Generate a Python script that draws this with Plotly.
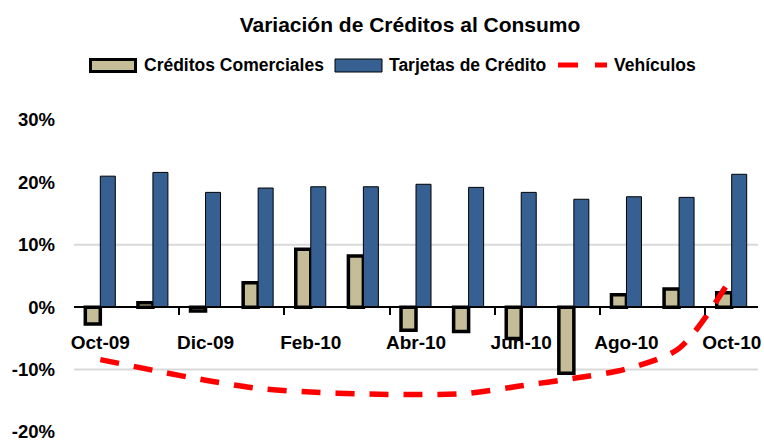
import plotly.graph_objects as go

# ---------------- data ----------------
months = ["Oct-09", "Nov-09", "Dic-09", "Ene-10", "Feb-10", "Mar-10", "Abr-10",
          "May-10", "Jun-10", "Jul-10", "Ago-10", "Sep-10", "Oct-10"]
comerciales = [-2.7, 0.7, -0.6, 3.9, 9.3, 8.2, -3.7, -3.9, -5.0, -10.6, 2.0, 2.9, 2.3]
tarjetas = [21.0, 21.6, 18.4, 19.1, 19.3, 19.3, 19.7, 19.2, 18.4, 17.3, 17.7, 17.6, 21.3]
vehiculos = [-8.4, -10.1, -11.7, -13.0, -13.6, -13.9, -14.0, -13.8, -12.6, -11.4, -9.9, -6.6, 4.8]
labeled_months = months[::2]
y_tick_vals = [-0.2, -0.1, 0.0, 0.1, 0.2, 0.3]
y_tick_text = ["-20%", "-10%", "0%", "10%", "20%", "30%"]
grid_vals = [-0.1, 0.1]
series_names = ["Créditos Comerciales", "Tarjetas de Crédito", "Vehículos"]
title_text = "Variación de Créditos al Consumo"

# ---------------- styles ----------------
FONT = "Liberation Sans, Arial, sans-serif"
TAN = "#C4BD97"
BLUE = "#376092"
RED = "#FF0000"

W_PX, H_PX = 764, 441
L, R, T, B = 74, 6, 120, 9
PW, PH = W_PX - L - R, H_PX - T - B


def px_x(x):
    return (x - L) / PW


def px_y(y):
    return (T + PH - y) / PH


y_min, y_max = -0.2, 0.3
zero_pos = (0 - y_min) / (y_max - y_min)

fig = go.Figure()
fig.add_trace(go.Bar(
    x=months, y=[v / 100 for v in comerciales], name=series_names[0],
    marker=dict(color=TAN, line=dict(color="black", width=3.5)),
    showlegend=False,
))
fig.add_trace(go.Bar(
    x=months, y=[v / 100 for v in tarjetas], name=series_names[1],
    marker=dict(color=BLUE, line=dict(color="black", width=1)),
    showlegend=False,
))
fig.add_trace(go.Scatter(
    x=months, y=[v / 100 for v in vehiculos], name=series_names[2],
    mode="lines", line=dict(color=RED, width=5.5, dash="19px,15px",
                            shape="spline", smoothing=0.8),
    showlegend=False,
))
# helper trace for boundary tick marks axis
fig.add_trace(go.Scatter(x=[], y=[], xaxis="x2", showlegend=False, hoverinfo="skip"))

n = len(months)
boundary_ticks = [i - 0.5 for i in range(2, n, 2)]

fig.update_layout(
    width=W_PX, height=H_PX,
    margin=dict(l=L, r=R, t=T, b=B, autoexpand=False),
    paper_bgcolor="white", plot_bgcolor="white",
    barmode="group", bargap=0.43, bargroupgap=0,
    font=dict(family=FONT, color="black"),
    title=dict(text=title_text, x=410 / W_PX, xref="container", xanchor="center",
               y=1 - 25 / H_PX, yref="container", yanchor="middle",
               font=dict(family=FONT, size=21, weight="bold", color="black")),
    xaxis=dict(
        type="category", range=[-0.5, n - 0.5],
        tickvals=labeled_months, ticktext=labeled_months,
        ticks="", showgrid=False, zeroline=False,
        showline=True, linecolor="black", linewidth=2,
        anchor="free", position=zero_pos, automargin=False,
        ticklabelstandoff=18, ticklabeloverflow="allow",
        tickfont=dict(family=FONT, size=19, weight="bold", color="black"),
    ),
    xaxis2=dict(
        overlaying="x", type="linear", range=[-0.5, n - 0.5],
        tickvals=boundary_ticks, ticks="outside", ticklen=7, tickwidth=2,
        tickcolor="black", showticklabels=False, showgrid=False,
        zeroline=False, showline=False, anchor="free", position=zero_pos,
        automargin=False,
    ),
    yaxis=dict(
        range=[y_min, y_max], tickvals=y_tick_vals, ticktext=y_tick_text,
        showgrid=False, zeroline=False, showline=False, ticks="",
        ticklabelstandoff=18, automargin=False, ticklabeloverflow="allow",
        tickfont=dict(family=FONT, size=18.5, weight="bold", color="black"),
    ),
    showlegend=False,
)

shapes = []
for g in grid_vals:
    shapes.append(dict(type="line", xref="paper", yref="y", x0=0, x1=1, y0=g, y1=g,
                       line=dict(color="#D9D9D9", width=2), layer="below"))

# custom legend (matching wide swatches of original)
ly = px_y(65)
shapes.append(dict(type="rect", xref="paper", yref="paper",
                   x0=px_x(90.5), x1=px_x(135.5), y0=px_y(71.5), y1=px_y(59.5),
                   fillcolor=TAN, line=dict(color="black", width=3)))
shapes.append(dict(type="rect", xref="paper", yref="paper",
                   x0=px_x(335), x1=px_x(382), y0=px_y(72), y1=px_y(59),
                   fillcolor=BLUE, line=dict(color="black", width=1)))
shapes.append(dict(type="line", xref="paper", yref="paper",
                   x0=px_x(558), x1=px_x(578), y0=ly, y1=ly,
                   line=dict(color=RED, width=5)))
shapes.append(dict(type="line", xref="paper", yref="paper",
                   x0=px_x(595), x1=px_x(607), y0=ly, y1=ly,
                   line=dict(color=RED, width=5)))
fig.update_layout(shapes=shapes)

legend_x = [142, 387, 612]
for name, lx in zip(series_names, legend_x):
    fig.add_annotation(text=name, xref="paper", yref="paper", x=px_x(lx), y=ly,
                       xanchor="left", yanchor="middle", showarrow=False,
                       font=dict(family=FONT, size=17.5, weight="bold", color="black"))

fig.write_html(
    "out.html",
    config={"displayModeBar": False},
    post_script="document.body.style.margin='0';document.body.style.overflow='hidden';",
)
